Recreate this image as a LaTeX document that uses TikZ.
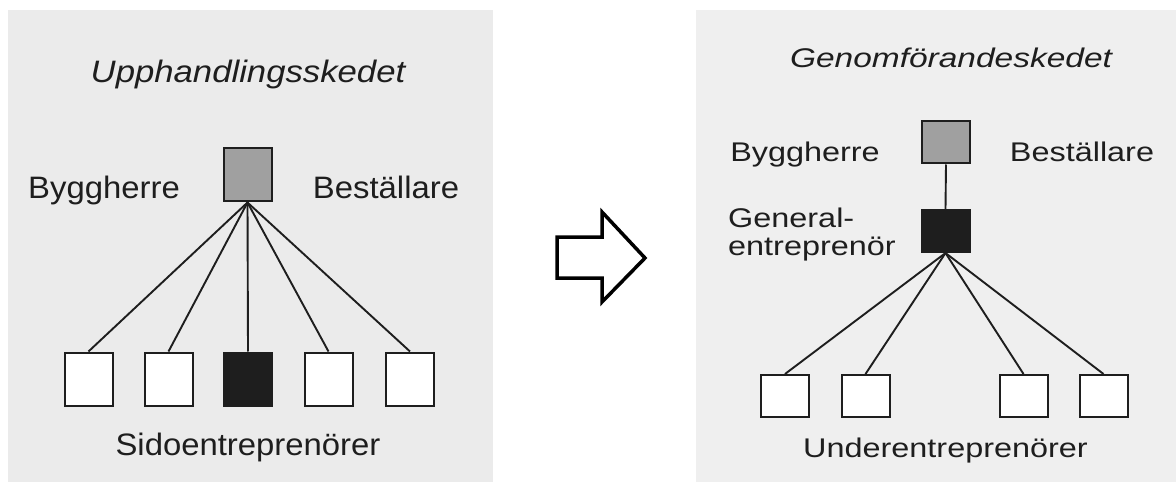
\documentclass[tikz,border=0pt]{standalone}
\usepackage{fontspec}
\setmainfont{Liberation Sans}
\newfontfamily\leftfont[FakeStretch=1.06]{Liberation Sans}
\newfontfamily\lefttitlefont[FakeStretch=1.12]{Liberation Sans}
\newfontfamily\rightfont[FakeStretch=1.2]{Liberation Sans}
\newfontfamily\righttitlefont[FakeStretch=1.24]{Liberation Sans}
\definecolor{panelL}{HTML}{EBEBEB}
\definecolor{panelR}{HTML}{EFEFEF}
\definecolor{ink}{HTML}{1E1E1E}
\definecolor{hatch}{HTML}{A0A0A0}
\begin{document}
\begin{tikzpicture}[x=1pt,y=-1pt,
  lbl/.style={inner sep=0pt, anchor=base, text=ink, font=\leftfont\fontsize{31}{36}\selectfont},
  rlbl/.style={inner sep=0pt, anchor=base, text=ink, font=\rightfont\fontsize{27}{28}\selectfont},
  boxL/.style={draw=ink, line width=2pt, minimum width=48pt, minimum height=53pt, inner sep=0pt},
  boxR/.style={draw=ink, line width=2pt, minimum width=48pt, minimum height=42pt, inner sep=0pt},
  conn/.style={draw=ink, line width=1.9pt},
  arrowshape/.style={draw=black, line width=3.5pt, fill=white, line join=miter}]
\useasboundingbox (0,0) rectangle (1176,484);
\fill[white] (0,0) rectangle (1176,484);
% panels
\fill[panelL] (8,10) rectangle (493,482);
\fill[panelR] (696,10) rectangle (1176,482);

% ---------- left panel ----------
\node[lbl, font=\lefttitlefont\itshape\fontsize{31}{36}\selectfont] (titleL) at (248,83) {Upphandlingsskedet};
\node[boxL, fill=hatch] (topL) at (247.5,175) {};
\node[lbl] (bygL) at (104,198) {Byggherre};
\node[lbl] (besL) at (386,198) {Beställare};
\node[boxL, fill=white] (l1) at (88.5,379) {};
\node[boxL, fill=white] (l2) at (168.5,379) {};
\node[boxL, fill=ink]   (l3) at (248,379) {};
\node[boxL, fill=white] (l4) at (328.5,379) {};
\node[boxL, fill=white] (l5) at (410,379) {};
\node[lbl] (sidoL) at (248,455) {Sidoentreprenörer};
\foreach \b in {l1,l2,l3,l4,l5}{\draw[conn] (topL.south) -- (\b.north);}

% ---------- arrow ----------
\draw[arrowshape] (557,237) -- (602,237) -- (602,212) -- (645,258) -- (602,302) -- (602,278) -- (557,278) -- cycle;

% ---------- right panel ----------
\node[rlbl, font=\righttitlefont\itshape\fontsize{27}{28}\selectfont] (titleR) at (951,68) {Genomförandeskedet};
\node[boxR, fill=hatch] (topR) at (946,142.5) {};
\node[rlbl] (bygR) at (805,162) {Byggherre};
\node[rlbl] (besR) at (1082,162) {Beställare};
\node[boxR, fill=ink] (ge) at (945.5,231) {};
\node[rlbl, anchor=base west] (geL1) at (728,227) {General-};
\node[rlbl, anchor=base west] (geL2) at (728,255) {entreprenör};
\draw[conn] (topR.south) -- (ge.north);
\node[boxR, fill=white] (r1) at (785,396) {};
\node[boxR, fill=white] (r2) at (865.5,396) {};
\node[boxR, fill=white] (r3) at (1023.5,396) {};
\node[boxR, fill=white] (r4) at (1103.5,396) {};
\foreach \b in {r1,r2,r3,r4}{\draw[conn] (ge.south) -- (\b.north);}
\node[rlbl] (underR) at (945.5,457) {Underentreprenörer};
\end{tikzpicture}
\end{document}
